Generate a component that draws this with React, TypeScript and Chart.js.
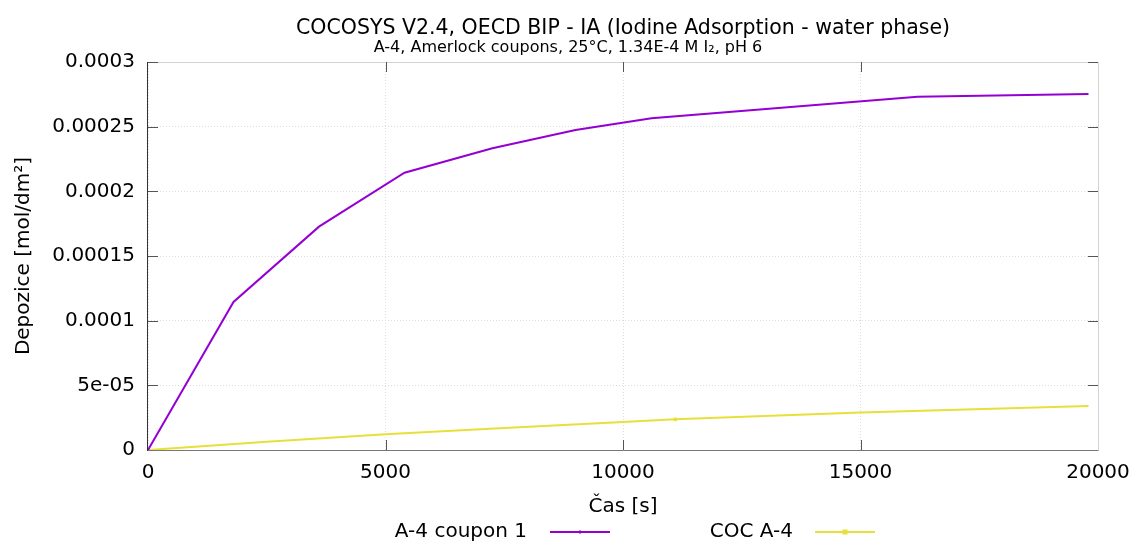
import React, { useEffect, useRef } from 'react';
import { Chart, registerables } from 'chart.js';

Chart.register(...registerables);

const titleText = 'COCOSYS V2.4, OECD BIP - IA (Iodine Adsorption - water phase)';
const subtitleText = 'A-4, Amerlock coupons, 25°C, 1.34E-4 M I₂, pH 6';
const xAxisTitle = 'Čas [s]';
const yAxisTitle = 'Depozice [mol/dm²]';

const xTickValues = [0, 5000, 10000, 15000, 20000];
const yTickValues = [0, 0.00005, 0.0001, 0.00015, 0.0002, 0.00025, 0.0003];
const yTickLabels = ['0', '5e-05', '0.0001', '0.00015', '0.0002', '0.00025', '0.0003'];

const seriesNames = ['A-4 coupon 1', 'COC A-4'];
const seriesColors = ['#9400d3', '#e8e03a'];

const coupon1Times = [0, 1800, 3600, 5400, 7250, 9000, 10600, 16200, 19800];
const coupon1Values = [0, 0.0001145, 0.0001727, 0.0002144, 0.0002333, 0.0002474, 0.0002565, 0.0002732, 0.0002753];

const cocTimes = [0, 2500, 5000, 7500, 10000, 11100, 15000, 19800];
const cocValues = [0, 0.0000063, 0.0000121, 0.000017, 0.0000216, 0.0000237, 0.0000289, 0.000034];
const cocMarkedTime = 11100;

const FONT = "'DejaVu Sans', Verdana, sans-serif";

export default function App() {
  const canvasRef = useRef<HTMLCanvasElement | null>(null);

  useEffect(() => {
    const canvas = canvasRef.current;
    if (!canvas) return;

    const framePlugin = {
      id: 'gnuFrame',
      beforeDatasetsDraw(chart: any) {
        const { ctx, chartArea } = chart;
        const { left, right, top, bottom } = chartArea;
        const xs = chart.scales.x;
        const ys = chart.scales.y;
        ctx.save();
        ctx.lineWidth = 1;
        ctx.strokeStyle = '#d4d4d4';
        ctx.beginPath();
        ctx.moveTo(left, top + 0.5);
        ctx.lineTo(right + 0.5, top + 0.5);
        ctx.lineTo(right + 0.5, bottom);
        ctx.stroke();
        ctx.strokeStyle = '#777777';
        ctx.beginPath();
        ctx.moveTo(left, bottom + 0.5);
        ctx.lineTo(right + 0.5, bottom + 0.5);
        ctx.stroke();
        ctx.strokeStyle = '#333333';
        ctx.beginPath();
        ctx.moveTo(left - 0.5, top);
        ctx.lineTo(left - 0.5, bottom + 1);
        ctx.stroke();
        ctx.strokeStyle = '#555555';
        const tl = 10;
        yTickValues.forEach((v) => {
          const y = Math.round(ys.getPixelForValue(v)) + 0.5;
          if (v === 0) return;
          ctx.beginPath();
          ctx.moveTo(left, y);
          ctx.lineTo(left + tl, y);
          ctx.moveTo(right, y);
          ctx.lineTo(right - tl, y);
          ctx.stroke();
        });
        xTickValues.forEach((v) => {
          const x = Math.round(xs.getPixelForValue(v)) + 0.5;
          if (v === 0 || v === 20000) return;
          ctx.beginPath();
          ctx.moveTo(x, bottom);
          ctx.lineTo(x, bottom - tl);
          ctx.moveTo(x, top);
          ctx.lineTo(x, top + tl);
          ctx.stroke();
        });
        ctx.restore();
      },
      afterDraw(chart: any) {
        const { ctx, chartArea } = chart;
        const cx = (chartArea.left + chartArea.right) / 2;
        ctx.save();
        ctx.fillStyle = '#000000';
        ctx.textAlign = 'center';
        ctx.textBaseline = 'alphabetic';
        ctx.font = `20.5px ${FONT}`;
        ctx.fillText(titleText, cx, 34);
        ctx.font = `16px ${FONT}`;
        ctx.fillText(subtitleText, 568, 51.5);

        const legendY = 532;
        const entries = [
          { textRight: 527, x0: 550, x1: 610 },
          { textRight: 793, x0: 815, x1: 875 },
        ];
        ctx.font = `20px ${FONT}`;
        ctx.textAlign = 'right';
        ctx.textBaseline = 'middle';
        entries.forEach((e, i) => {
          ctx.fillStyle = '#000000';
          ctx.fillText(seriesNames[i], e.textRight, legendY);
          ctx.strokeStyle = seriesColors[i];
          ctx.lineWidth = 2;
          ctx.beginPath();
          ctx.moveTo(e.x0, legendY);
          ctx.lineTo(e.x1, legendY);
          ctx.stroke();
          const mx = (e.x0 + e.x1) / 2;
          ctx.fillStyle = seriesColors[i];
          if (i === 0) {
            ctx.fillRect(mx - 1, legendY - 1.5, 2, 3);
          } else {
            ctx.fillRect(mx - 2.5, legendY - 2.5, 5, 5);
          }
        });
        ctx.restore();
      },
    };

    const chart = new Chart(canvas, {
      type: 'line',
      data: {
        datasets: [
          {
            label: seriesNames[0],
            data: coupon1Times.map((t, i) => ({ x: t, y: coupon1Values[i] })),
            borderColor: seriesColors[0],
            backgroundColor: seriesColors[0],
            borderWidth: 2,
            pointRadius: 0,
            tension: 0,
          },
          {
            label: seriesNames[1],
            data: cocTimes.map((t, i) => ({ x: t, y: cocValues[i] })),
            borderColor: seriesColors[1],
            backgroundColor: seriesColors[1],
            borderWidth: 2,
            pointStyle: 'rect',
            pointRadius: cocTimes.map((t) => (t === cocMarkedTime ? 2.5 : 0)),
            pointBorderWidth: 0,
            tension: 0,
          },
        ],
      },
      plugins: [framePlugin],
      options: {
        animation: false,
        responsive: false,
        maintainAspectRatio: false,
        devicePixelRatio: 1,
        layout: { padding: { top: 62, right: 35, left: 0, bottom: 0 } },
        plugins: {
          legend: { display: false },
          title: { display: false },
          tooltip: { enabled: false },
        },
        scales: {
          x: {
            type: 'linear',
            min: 0,
            max: 20000,
            afterBuildTicks: (scale: any) => {
              scale.ticks = xTickValues.map((v) => ({ value: v }));
            },
            afterFit: (scale: any) => {
              scale.height = 95;
              scale.paddingLeft = 0;
              scale.paddingRight = 0;
            },
            ticks: {
              color: '#000000',
              font: { family: FONT, size: 20 },
              padding: 11,
              maxRotation: 0,
              autoSkip: false,
              callback: (v: any) => String(v),
            },
            grid: {
              color: '#dddddd',
              lineWidth: 1,
              drawTicks: false,
            },
            border: { display: false, dash: [1, 2] },
            title: {
              display: true,
              text: xAxisTitle,
              color: '#000000',
              font: { family: FONT, size: 20 },
              padding: { top: 0, bottom: 26 },
            },
          },
          y: {
            type: 'linear',
            min: 0,
            max: 0.0003,
            afterBuildTicks: (scale: any) => {
              scale.ticks = yTickValues.map((v) => ({ value: v }));
            },
            afterFit: (scale: any) => {
              scale.width = 148;
              scale.paddingTop = 0;
              scale.paddingBottom = 0;
            },
            ticks: {
              color: '#000000',
              font: { family: FONT, size: 20 },
              padding: 13,
              autoSkip: false,
              callback: (_v: any, i: number) => yTickLabels[i],
            },
            grid: {
              color: '#dddddd',
              lineWidth: 1,
              drawTicks: false,
            },
            border: { display: false, dash: [1, 2] },
            title: {
              display: true,
              text: yAxisTitle,
              color: '#000000',
              font: { family: FONT, size: 20 },
              padding: { top: 12, bottom: 0 },
            },
          },
        },
      },
    });

    return () => {
      chart.destroy();
    };
  }, []);

  return (
    <div style={{ position: 'absolute', left: 0, top: 0, width: 1133, height: 545, background: '#ffffff' }}>
      <canvas ref={canvasRef} width={1133} height={545} style={{ display: 'block', width: 1133, height: 545 }} />
    </div>
  );
}
